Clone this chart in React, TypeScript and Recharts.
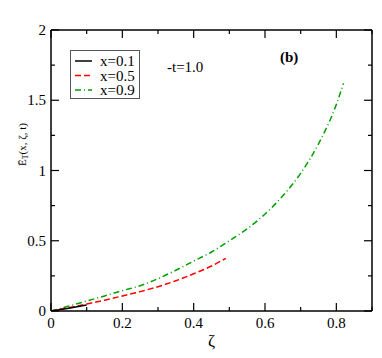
import React from "react"
import { LineChart, Line, XAxis, YAxis } from "recharts"

// x = 0.9 curve (green, dash-dot)
const zeta09 = [0, 0.05, 0.1, 0.15, 0.2, 0.25, 0.3, 0.35, 0.4, 0.45, 0.5, 0.55, 0.6, 0.65, 0.7, 0.75, 0.8, 0.82]
const e09 = [0, 0.035, 0.071, 0.107, 0.145, 0.18, 0.23, 0.29, 0.355, 0.42, 0.5, 0.585, 0.69, 0.82, 0.98, 1.19, 1.47, 1.62]

// x = 0.5 curve (red, dashed)
const zeta05 = [0, 0.05, 0.1, 0.15, 0.2, 0.25, 0.3, 0.35, 0.4, 0.45, 0.49]
const e05 = [0, 0.024, 0.05, 0.077, 0.107, 0.138, 0.173, 0.215, 0.265, 0.32, 0.375]

// x = 0.1 curve (black, solid)
const zeta01 = [0, 0.05, 0.1]
const e01 = [0, 0.02, 0.042]

const xTicks = [0, 0.1, 0.2, 0.3, 0.4, 0.5, 0.6, 0.7, 0.8, 0.9]
const yTicks = [0, 0.25, 0.5, 0.75, 1, 1.25, 1.5, 1.75, 2]

const legendItems = [
  { label: "x=0.1", color: "#000000", dash: undefined },
  { label: "x=0.5", color: "#ff0000", dash: "6 3" },
  { label: "x=0.9", color: "#00a000", dash: "6 3 1 3" },
]

const toPoints = (xs: number[], ys: number[]) => xs.map((x, i) => ({ x, y: ys[i] }))

const FONT = "Liberation Serif, serif"
const txt = { fontFamily: FONT, fill: "#000" }
const MAJOR = 8
const MINOR = 4

const xMajor = (v: number) => Math.round(v * 10) % 2 === 0
const yMajor = (v: number) => Math.round(v * 4) % 2 === 0

function BottomTick(props: any) {
  const { x, y, payload } = props
  const major = xMajor(payload.value)
  return (
    <g>
      <line x1={x} x2={x} y1={y} y2={y - (major ? MAJOR : MINOR)} stroke="#000" strokeWidth={1.2} />
      {major && (
        <text x={x} y={y + 17} textAnchor="middle" style={{ ...txt, fontSize: 15 }}>
          {String(payload.value)}
        </text>
      )}
    </g>
  )
}

function TopTick(props: any) {
  const { x, y, payload } = props
  const major = xMajor(payload.value)
  return <line x1={x} x2={x} y1={y} y2={y + (major ? MAJOR : MINOR)} stroke="#000" strokeWidth={1.2} />
}

function LeftTick(props: any) {
  const { x, y, payload } = props
  const major = yMajor(payload.value)
  return (
    <g>
      <line x1={x} x2={x + (major ? MAJOR : MINOR)} y1={y} y2={y} stroke="#000" strokeWidth={1.2} />
      {major && (
        <text x={x - 5} y={y + 5} textAnchor="end" style={{ ...txt, fontSize: 15 }}>
          {String(payload.value)}
        </text>
      )}
    </g>
  )
}

function RightTick(props: any) {
  const { x, y, payload } = props
  const major = yMajor(payload.value)
  return <line x1={x} x2={x - (major ? MAJOR : MINOR)} y1={y} y2={y} stroke="#000" strokeWidth={1.2} />
}

function XLabel(props: any) {
  const vb = props.viewBox
  return (
    <text x={vb.x + vb.width / 2} y={vb.y + 35} textAnchor="middle" style={{ ...txt, fontSize: 17 }}>
      ζ
    </text>
  )
}

function YLabel(props: any) {
  const vb = props.viewBox
  const cx = vb.x + 11
  const cy = vb.y + vb.height / 2 - 26
  return (
    <text
      x={cx}
      y={cy}
      transform={`rotate(-90 ${cx} ${cy})`}
      textAnchor="middle"
      dominantBaseline="central"
      style={{ ...txt, fontSize: 11 }}
    >
      Ē<tspan style={{ fontSize: 8 }} dy={3}>T</tspan>
      <tspan dy={-3}>(x, ζ, t)</tspan>
    </text>
  )
}

export default function App() {
  return (
    <div style={{ position: "absolute", left: 0, top: 0, width: 382, height: 358, background: "#fff" }}>
      <LineChart width={382} height={358} margin={{ top: 29, right: 9, bottom: 17, left: 11 }}>
        <XAxis
          xAxisId="bottom"
          type="number"
          dataKey="x"
          domain={[0, 0.9]}
          ticks={xTicks}
          interval={0}
          tickSize={0}
          tickMargin={0}
          tickLine={false}
          tick={<BottomTick />}
          height={30}
          axisLine={{ stroke: "#000", strokeWidth: 1.5 }}
          allowDataOverflow
          label={<XLabel />}
        />
        <XAxis
          xAxisId="top"
          orientation="top"
          type="number"
          dataKey="x"
          domain={[0, 0.9]}
          ticks={xTicks}
          interval={0}
          tickSize={0}
          tickMargin={0}
          tickLine={false}
          tick={<TopTick />}
          height={1}
          axisLine={{ stroke: "#000", strokeWidth: 1.5 }}
          allowDataOverflow
        />
        <YAxis
          yAxisId="left"
          type="number"
          domain={[0, 2]}
          ticks={yTicks}
          interval={0}
          tickSize={0}
          tickMargin={0}
          tickLine={false}
          tick={<LeftTick />}
          width={40}
          axisLine={{ stroke: "#000", strokeWidth: 1.5 }}
          allowDataOverflow
          label={<YLabel />}
        />
        <YAxis
          yAxisId="right"
          orientation="right"
          type="number"
          domain={[0, 2]}
          ticks={yTicks}
          interval={0}
          tickSize={0}
          tickMargin={0}
          tickLine={false}
          tick={<RightTick />}
          width={1}
          axisLine={{ stroke: "#000", strokeWidth: 1.5 }}
          allowDataOverflow
        />
        <Line
          xAxisId="bottom"
          yAxisId="left"
          data={toPoints(zeta09, e09)}
          dataKey="y"
          type="monotone"
          stroke="#00a000"
          strokeWidth={1.5}
          strokeDasharray="6 3 1 3"
          dot={false}
          isAnimationActive={false}
        />
        <Line
          xAxisId="bottom"
          yAxisId="left"
          data={toPoints(zeta05, e05)}
          dataKey="y"
          type="monotone"
          stroke="#ff0000"
          strokeWidth={1.5}
          strokeDasharray="6 3"
          dot={false}
          isAnimationActive={false}
        />
        <Line
          xAxisId="bottom"
          yAxisId="left"
          data={toPoints(zeta01, e01)}
          dataKey="y"
          type="monotone"
          stroke="#000000"
          strokeWidth={1.5}
          dot={false}
          isAnimationActive={false}
        />
      </LineChart>
      <svg
        width={382}
        height={358}
        style={{ position: "absolute", left: 0, top: 0, pointerEvents: "none" }}
      >
        <rect x={70.5} y={50.5} width={69} height={48} fill="#fff" stroke="#555" strokeWidth={1} />
        {legendItems.map((item, i) => (
          <g key={item.label}>
            <line
              x1={75}
              x2={92}
              y1={61 + i * 14.5}
              y2={61 + i * 14.5}
              stroke={item.color}
              strokeWidth={1.5}
              strokeDasharray={item.dash}
            />
            <text x={100} y={66 + i * 14.5} style={{ ...txt, fontSize: 15 }}>
              {item.label}
            </text>
          </g>
        ))}
        <text x={167} y={72} style={{ ...txt, fontSize: 15 }}>
          -t=1.0
        </text>
        <text x={280} y={62} style={{ ...txt, fontSize: 15, fontWeight: "bold" }}>
          (b)
        </text>
      </svg>
    </div>
  )
}
